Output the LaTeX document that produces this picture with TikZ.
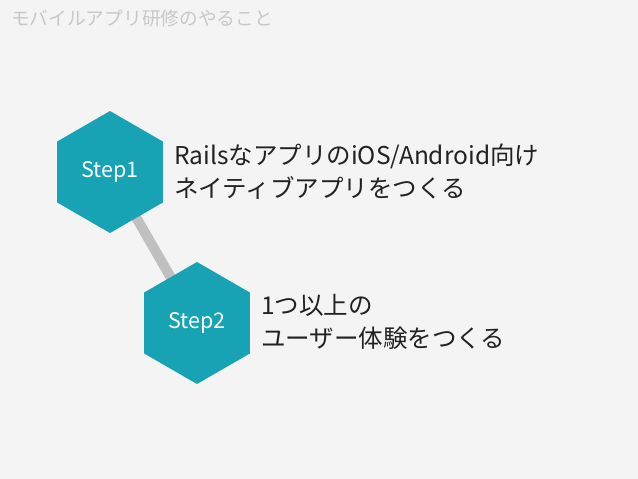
\documentclass[tikz,border=0pt]{standalone}
\usepackage{fontspec}
\setmainfont{Noto Sans CJK JP}
\usetikzlibrary{shapes.geometric}
\definecolor{hexteal}{RGB}{24,163,181}
\definecolor{bggray}{RGB}{244,244,244}
\definecolor{linkgray}{RGB}{192,192,192}
\definecolor{titlegray}{RGB}{200,200,200}
\definecolor{bodyblack}{RGB}{34,34,34}

\begin{document}
\begin{tikzpicture}[x=1pt, y=-1pt,
hexstep/.style={regular polygon, regular polygon sides=6, shape border rotate=30,
minimum size=122pt, inner sep=0pt, fill=hexteal, text=white, font=\fontsize{21.5}{24}\selectfont},
desc/.style={anchor=west, align=left, text=bodyblack, inner sep=0pt, font=\fontsize{24.5}{33}\selectfont},
link/.style={line width=10pt, draw=linkgray}
]

\fill[bggray] (0,0) rectangle (638,479);
\useasboundingbox (0,0) rectangle (638,479);

\node[anchor=west, text=titlegray, inner sep=0pt, font=\fontsize{18.7}{22}\selectfont] (title) at (11,18) {モバイルアプリ研修のやること};

% the two steps
\coordinate (c1) at (110,172);
\coordinate (c2) at (197,323);
\draw[link] (c1) -- (c2);
\node[hexstep] (step1) at (c1) {Step1};
\node[hexstep] (step2) at (c2) {Step2};

\node[desc] (desc1) at (174,172) {RailsなアプリのiOS/Android向け\\ネイティブアプリをつくる};
\node[desc] (desc2) at (261,322) {1つ以上の\\ユーザー体験をつくる};
\end{tikzpicture}
\end{document}
